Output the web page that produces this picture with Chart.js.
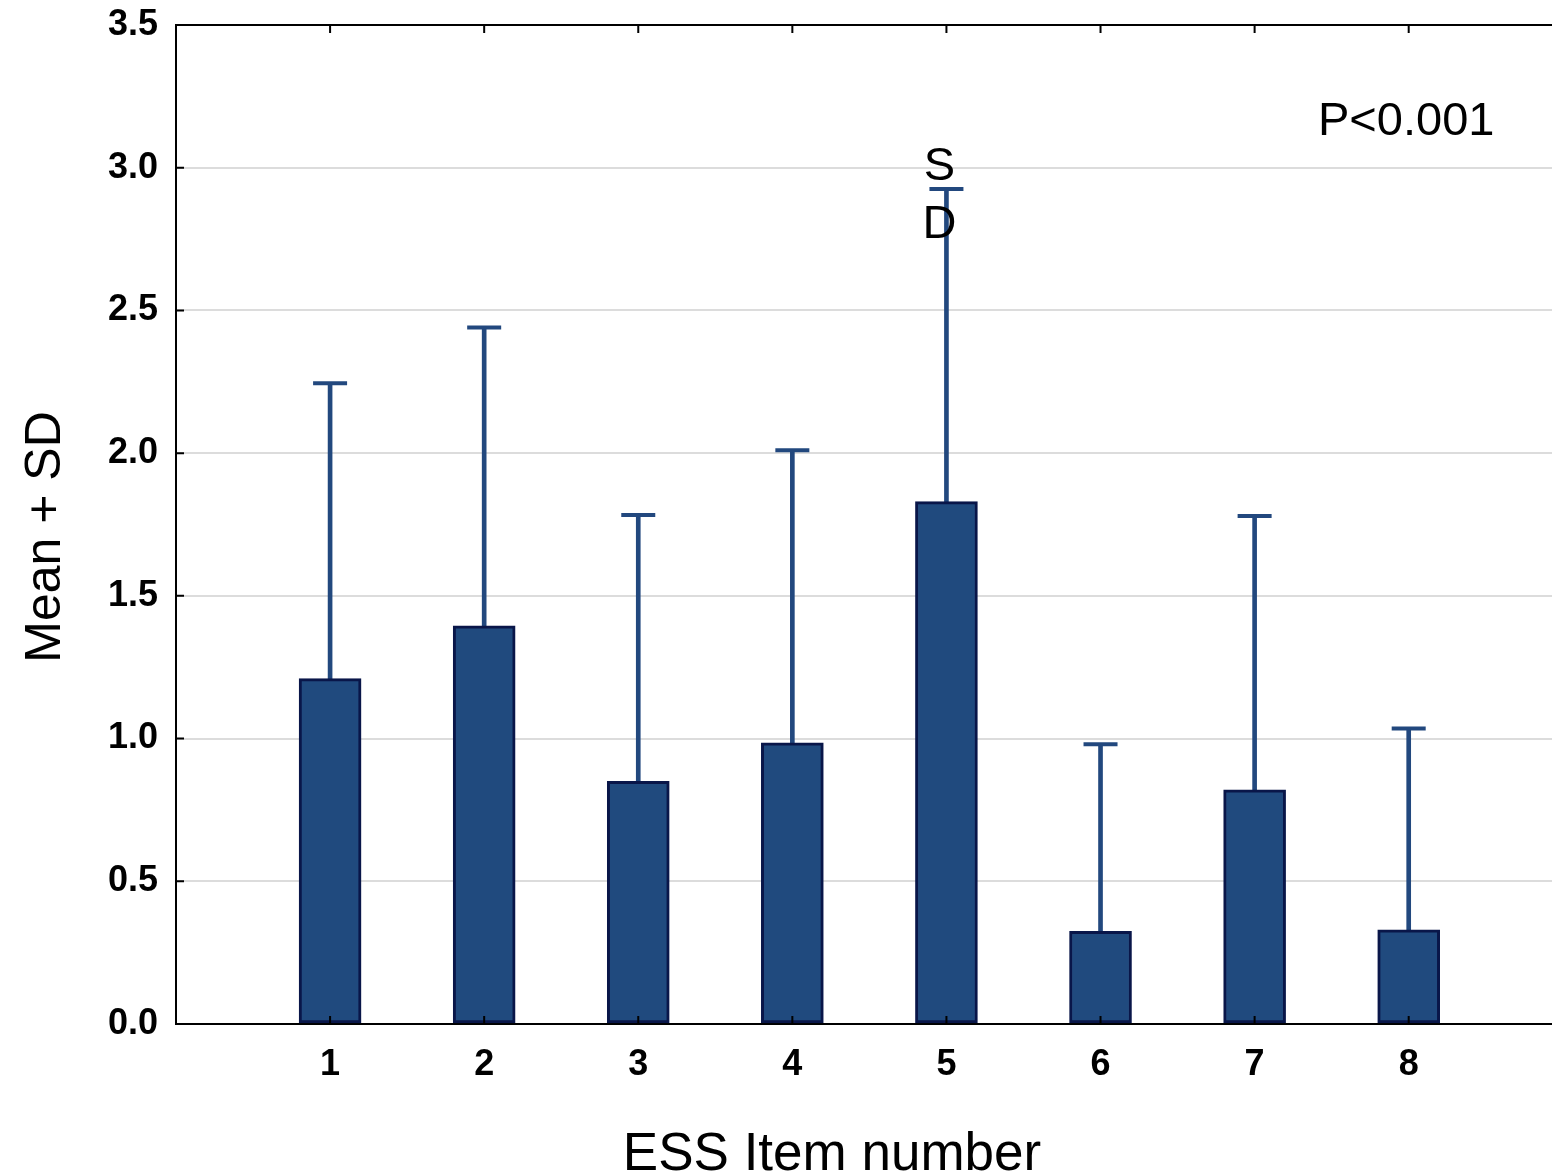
<!DOCTYPE html>
<html>
<head>
<meta charset="utf-8">
<script src="https://cdn.jsdelivr.net/npm/chart.js@4"></script>
<style>
  html, body { margin: 0; padding: 0; background: #fff; }
  canvas { display: block; }
</style>
</head>
<body>
<canvas id="canvas" width="1552" height="1176"></canvas>
<script>
// ESS items, mean and SD
var items = [1, 2, 3, 4, 5, 6, 7, 8];
var means = [1.21, 1.395, 0.85, 0.985, 1.83, 0.325, 0.82, 0.33];
var sds = [1.035, 1.045, 0.933, 1.025, 1.095, 0.655, 0.96, 0.705];
var yTicks = [0, 0.5, 1.0, 1.5, 2.0, 2.5, 3.0, 3.5];

var barBlue = '#204a7e';
var errBlue = '#22487e';
var fontFam = "Arial, 'Liberation Sans', sans-serif";

var barData = items.map(function(x, i){ return {x: x, y: means[i]}; });
var whiskerData = items.map(function(x, i){ return {x: x, y: [means[i], means[i] + sds[i]]}; });
var capData = items.map(function(x, i){ return {x: x, y: means[i] + sds[i]}; });

function noPad(s){ s.paddingTop = 0; s.paddingBottom = 0; s.paddingLeft = 0; s.paddingRight = 0; }

var extras = {
  id: 'extras',
  afterDraw: function(chart){
    var ctx = chart.ctx, xs = chart.scales.x, ys = chart.scales.y, a = chart.chartArea;
    ctx.save();
    // inside tick marks
    ctx.strokeStyle = '#000';
    ctx.lineWidth = 2;
    ctx.beginPath();
    items.forEach(function(v){
      var px = xs.getPixelForValue(v);
      ctx.moveTo(px, a.bottom); ctx.lineTo(px, a.bottom - 8);
      ctx.moveTo(px, a.top); ctx.lineTo(px, a.top + 8);
    });
    yTicks.forEach(function(v){
      var py = ys.getPixelForValue(v);
      ctx.moveTo(a.left, py); ctx.lineTo(a.left + 8, py);
    });
    ctx.stroke();

    ctx.fillStyle = '#000';
    ctx.textBaseline = 'alphabetic';
    // P value
    ctx.font = '47px ' + fontFam;
    ctx.textAlign = 'left';
    ctx.fillText('P<0.001', a.right - 234, a.top + 110);
    // stacked "SD" near item 5
    ctx.textAlign = 'center';
    var sx = xs.getPixelForValue(5) - 7;
    ctx.fillText('S', sx, 180);
    ctx.fillText('D', sx, 238);
    // axis titles
    ctx.font = '53px ' + fontFam;
    ctx.fillText('ESS Item number', 832, 1170);
    ctx.font = '50px ' + fontFam;
    ctx.translate(60, 537);
    ctx.rotate(-Math.PI / 2);
    ctx.fillText('Mean + SD', 0, 0);
    ctx.restore();
  }
};

window.onload = function(){
  var ctx = document.getElementById('canvas').getContext('2d');
  window.myChart = new Chart(ctx, {
    type: 'bar',
    data: {
      datasets: [
        {
          label: 'SD',
          data: whiskerData,
          backgroundColor: errBlue,
          borderWidth: 0,
          barThickness: 4,
          grouped: false,
          order: 2
        },
        {
          label: 'Mean',
          data: barData,
          backgroundColor: barBlue,
          borderColor: '#091649',
          borderWidth: 3,
          borderSkipped: false,
          barThickness: 62,
          grouped: false,
          order: 1
        },
        {
          type: 'scatter',
          label: 'cap',
          data: capData,
          pointStyle: 'line',
          pointRadius: 17,
          pointBorderWidth: 4,
          borderColor: errBlue,
          backgroundColor: errBlue,
          order: 0
        }
      ]
    },
    options: {
      responsive: false,
      animation: false,
      devicePixelRatio: 1,
      layout: { autoPadding: false, padding: { top: 25, right: 0, left: 0, bottom: 0 } },
      plugins: { legend: { display: false }, tooltip: { enabled: false } },
      scales: {
        x: {
          type: 'linear',
          offset: false,
          min: 0,
          max: 8.93,
          afterFit: function(s){ s.height = 152; noPad(s); },
          grid: { display: false, drawTicks: false, offset: false },
          border: { display: true, color: '#000', width: 2 },
          ticks: {
            stepSize: 1,
            autoSkip: false,
            maxRotation: 0,
            padding: 19,
            color: '#000',
            font: { family: fontFam, size: 36, weight: 'bold' },
            callback: function(v){ return (Number.isInteger(v) && v >= 1 && v <= 8) ? String(v) : ''; }
          }
        },
        y: {
          min: 0,
          max: 3.5,
          afterFit: function(s){ s.width = 176; noPad(s); },
          grid: {
            drawTicks: false,
            lineWidth: 2,
            color: function(c){
              var v = c.tick ? c.tick.value : null;
              return (v === 3.5 || v === 0) ? '#000' : '#dcdcdc';
            }
          },
          border: { display: true, color: '#000', width: 2 },
          ticks: {
            stepSize: 0.5,
            padding: 18,
            color: '#000',
            font: { family: fontFam, size: 36, weight: 'bold' },
            callback: function(v){ return v.toFixed(1); }
          }
        }
      }
    },
    plugins: [extras]
  });
};
</script>
</body>
</html>
